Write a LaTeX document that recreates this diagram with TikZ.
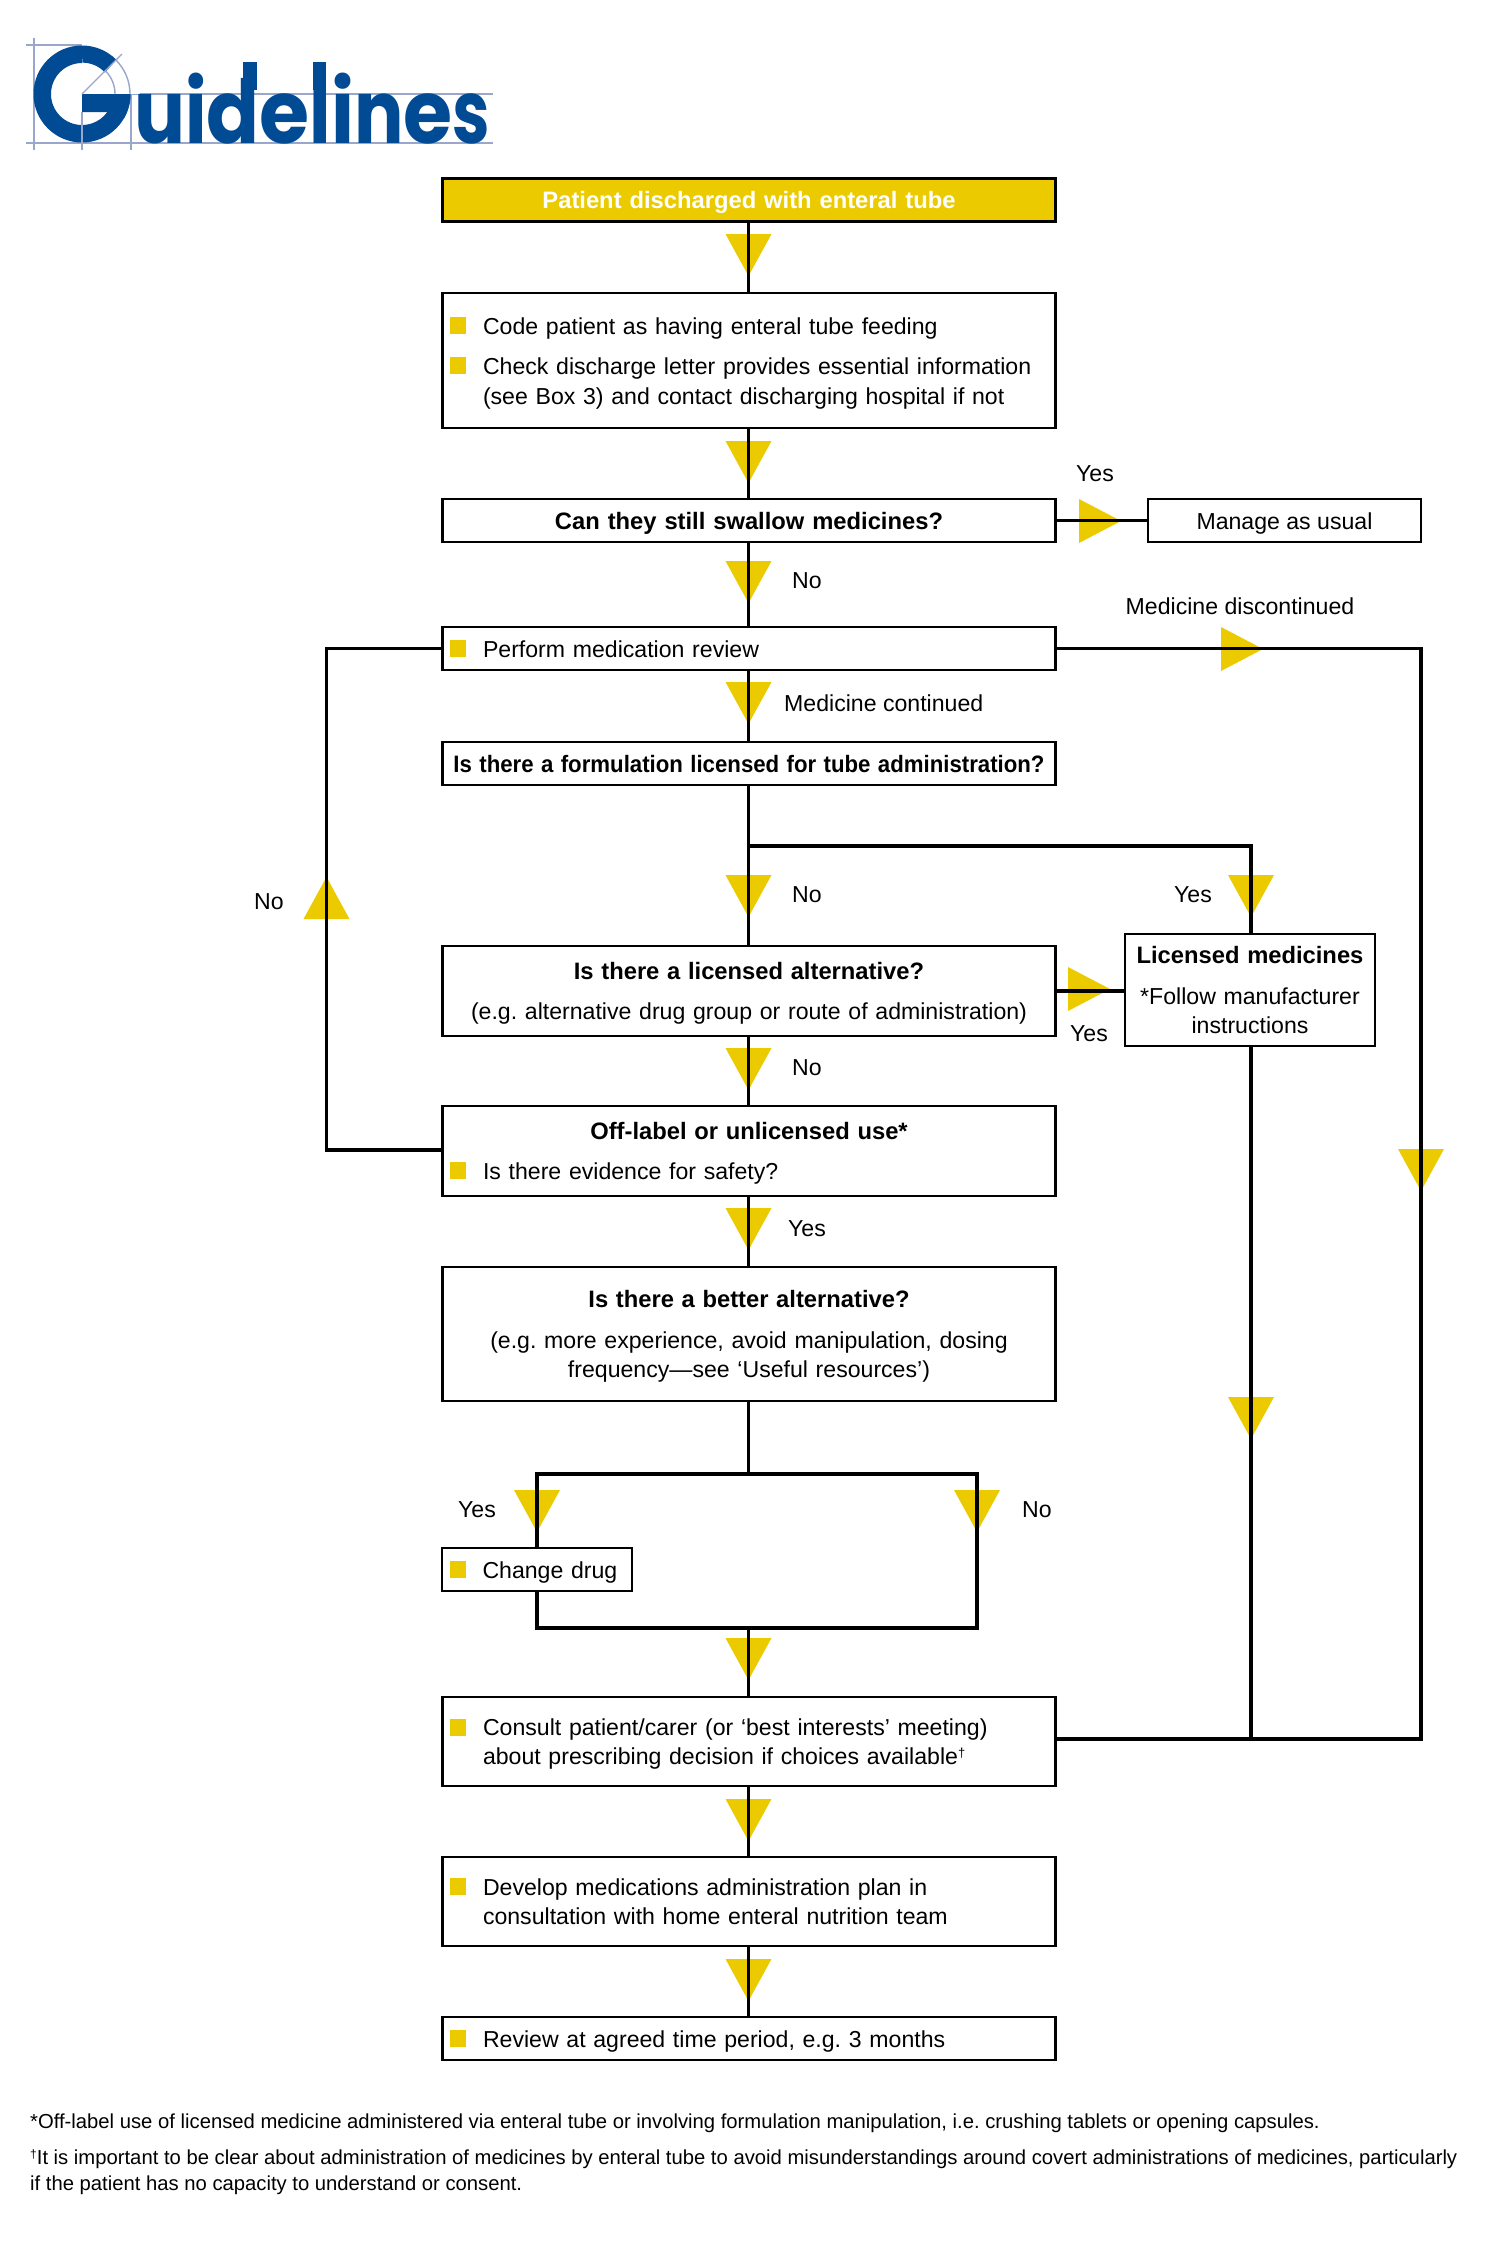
\documentclass[tikz,border=0pt]{standalone}
\usepackage{fontspec}
\setmainfont{Liberation Sans}
\newfontfamily\logofont{Poppins}
\usetikzlibrary{calc}
\frenchspacing
\definecolor{tubeyellow}{HTML}{EBCB00}
\definecolor{logoblue}{HTML}{004B93}
\definecolor{guideblue}{HTML}{9AA6CC}
\newcommand{\ind}{\hspace*{40.5pt}}
\newcommand{\tp}{\rule{0pt}{23pt}}
\newcommand{\bt}{\rule[-6pt]{0pt}{6pt}}
\newcommand{\dg}{\raisebox{7pt}{\fontsize{13}{13}\selectfont †}}
\newcommand{\logoletter}[2]{\resizebox{#1pt}{\height}{#2}}
\newcommand{\tridown}[2]{\fill[tubeyellow] ($(#1,-#2)+(-23,0)$) -- ($(#1,-#2)+(23,0)$) -- ($(#1,-#2)+(0,-42)$) -- cycle;}
\newcommand{\triright}[2]{\fill[tubeyellow] ($(#1,-#2)+(0,22)$) -- ($(#1,-#2)+(0,-22)$) -- ($(#1,-#2)+(42,0)$) -- cycle;}
\newcommand{\triup}[2]{\fill[tubeyellow] ($(#1,-#2)+(-23,0)$) -- ($(#1,-#2)+(23,0)$) -- ($(#1,-#2)+(0,42)$) -- cycle;}
\newcommand{\bul}[1]{\fill[tubeyellow] (450,-#1) rectangle (466,-#1-17);}
\tikzset{
  x=1pt,y=1pt,
  basebox/.style={draw=black,line width=2.2pt,inner sep=0pt,font=\fontsize{23.1}{29.5}\selectfont},
  boldfont/.style={font=\bfseries\fontsize{23.75}{29.5}\selectfont},
  mainbox/.style={basebox,minimum width=613pt,text width=613pt},
  ctr/.style={align=center},
  lft/.style={align=left},
  lab/.style={inner sep=0pt,font=\fontsize{23.1}{29.5}\selectfont},
  foot/.style={inner sep=0pt,anchor=west,align=left,font=\fontsize{20.25}{26}\selectfont},
  link/.style={draw=black,line width=3.6pt},
  guide/.style={draw=guideblue,line width=1.4pt}
}
\begin{document}
\begin{tikzpicture}
\useasboundingbox (0,0) rectangle (1488,-2244);
\fill[white] (0,0) rectangle (1488,-2244);
% triangles under the lines
\tridown{748.5}{234}\tridown{748.5}{441}\tridown{748.5}{561}\tridown{748.5}{682}
\tridown{748.5}{875}\tridown{748.5}{1048}\tridown{748.5}{1208}\tridown{748.5}{1638}
\tridown{748.5}{1799}\tridown{748.5}{1959}
\tridown{1251}{875}\tridown{1251}{1397}\tridown{1421}{1149}
\tridown{537}{1490}\tridown{977}{1490}
\triright{1079}{521}\triright{1221}{649}\triright{1068}{989}
\triup{326.5}{919}
% logo
\begin{scope}
\draw[guide] (26,-45) -- (138,-45);
\draw[guide] (26,-143) -- (493,-143);
\draw[guide] (130,-94) -- (493,-94);
\draw[guide] (34,-38) -- (34,-150);
\draw[guide] (131,-38) -- (131,-150);
\fill[logoblue,even odd rule] (82,-94) circle (48.5) (82,-94) circle (31);
\fill[white] (82,-94) -- (140,-94) -- (140,-36) -- (82,-36) -- cycle;
\fill[logoblue] (82,-45.5) arc (90:45:48.5) -- (105,-72.5) arc (43:90:31) -- cycle;
\fill[logoblue] (82,-94) -- (130.5,-94) arc (0:-30:48.5) -- (110,-112) -- (82,-112) -- cycle;
\draw[guide] (82,-94) -- (122,-54);
\draw[guide] (115,-94) arc (0:45:33);
\draw[guide] (130,-94) arc (0:45:48);
\draw[guide] (82,-112) -- (82,-150);
\node[inner sep=0pt,anchor=base west,text=logoblue,font=\logofont\bfseries\fontsize{88}{88}\selectfont] (logo) at (134,-143) {\logoletter{51}{u}\logoletter{21.5}{i}\logoletter{53}{d}\logoletter{50}{e}\logoletter{21.5}{l}\logoletter{23}{i}\logoletter{49.5}{n}\logoletter{49}{e}\logoletter{37.5}{s}};
\fill[logoblue] (243,-62) rectangle (257,-90);
\fill[logoblue] (313,-62) rectangle (326,-90);
\end{scope}
% boxes
\node[mainbox,ctr,fill=tubeyellow,minimum height=43pt,text=white,boldfont] (start) at (749,-200) {\tp Patient discharged with enteral tube\bt};
\node[mainbox,lft,minimum height=135pt] (code) at (749,-360.5) {\ind\tp Code patient as having enteral tube feeding\\[11pt]\ind Check discharge letter provides essential information\\\ind (see Box 3) and contact discharging hospital if not\bt};
\node[mainbox,ctr,minimum height=43pt,boldfont] (swallow) at (749,-520.5) {\tp Can they still swallow medicines?\bt};
\node[basebox,minimum width=273pt,minimum height=43pt] (usual) at (1284.5,-520.5) {\tp Manage as usual\bt};
\node[mainbox,lft,minimum height=43pt] (review) at (749,-648.5) {\ind\tp Perform medication review\bt};
\node[mainbox,ctr,minimum height=43pt,boldfont] (form) at (749,-763.5) {\tp\resizebox{591pt}{\height}{Is there a formulation licensed for tube administration?}\bt};
\node[mainbox,ctr,minimum height=90pt] (alt) at (749,-991) {\tp\textbf{\fontsize{23.75}{29.5}\selectfont Is there a licensed alternative?}\\[11pt](e.g. alternative drug group or route of administration)\bt};
\node[basebox,ctr,minimum width=250pt,text width=250pt,minimum height=112pt] (lic) at (1250,-990) {\tp\textbf{\fontsize{23.75}{29.5}\selectfont Licensed medicines}\\[11pt]*Follow manufacturer\\instructions\bt};
\node[mainbox,lft,minimum height=90pt] (off) at (749,-1151) {\tp\makebox[613pt][c]{\textbf{\fontsize{23.75}{29.5}\selectfont Off-label or unlicensed use*}}\\[11pt]\ind Is there evidence for safety?\bt};
\node[mainbox,ctr,minimum height=134pt] (better) at (749,-1334) {\tp\textbf{\fontsize{23.75}{29.5}\selectfont Is there a better alternative?}\\[11pt](e.g. more experience, avoid manipulation, dosing\\frequency—see ‘Useful resources’)\bt};
\node[basebox,lft,minimum width=190pt,text width=190pt,minimum height=43pt] (change) at (537,-1569.5) {\ind\tp Change drug\bt};
\node[mainbox,lft,minimum height=89pt] (consult) at (749,-1741.5) {\ind\tp Consult patient/carer (or ‘best interests’ meeting)\\\ind about prescribing decision if choices available\dg\bt};
\node[mainbox,lft,minimum height=89pt] (plan) at (749,-1901.5) {\ind\tp Develop medications administration plan in\\\ind consultation with home enteral nutrition team\bt};
\node[mainbox,lft,minimum height=43pt] (again) at (749,-2038.5) {\ind\tp Review at agreed time period, e.g. 3 months\bt};
% coordinates
\coordinate (split) at (748.5,-846);
\coordinate (licT) at (1251,-846);
\coordinate (leftT) at (326.5,-648.5);
\coordinate (leftB) at (326.5,-1150);
\coordinate (rightT) at (1421,-648.5);
\coordinate (rightB) at (1421,-1739);
\coordinate (licB) at (1251,-1739);
\coordinate (fork) at (748.5,-1474);
\coordinate (forkL) at (537,-1474);
\coordinate (forkR) at (977,-1474);
\coordinate (joinL) at (537,-1628);
\coordinate (joinR) at (977,-1628);
\coordinate (join) at (748.5,-1628);
% connectors
\draw[link] (start.south -| split) -- (code.north -| split);
\draw[link] (code.south -| split) -- (swallow.north -| split);
\draw[link] (swallow.south -| split) -- (review.north -| split);
\draw[link] (review.south -| split) -- (form.north -| split);
\draw[link] (form.south -| split) -- (alt.north -| split);
\draw[link] (alt.south -| split) -- (off.north -| split);
\draw[link] (off.south -| split) -- (better.north -| split);
\draw[link] (swallow.east) -- (usual.west);
\draw[link] (alt.east) -- (alt.east -| lic.west);
\draw[link,line join=miter] (split) -- (licT) -- (lic.north -| licT);
\draw[link,line join=miter] (review.west) -- (leftT) -- (leftB) -- (off.west |- leftB);
\draw[link,line join=miter] (review.east) -- (rightT) -- (rightB) -- (consult.east |- rightB);
\draw[link] (lic.south -| licB) -- (licB);
\draw[link] (better.south -| fork) -- (fork);
\draw[link,line join=miter] (change.north -| forkL) -- (forkL) -- (forkR) -- (joinR) -- (joinL) -- (change.south -| joinL);
\draw[link] (join) -- (consult.north -| join);
\draw[link] (consult.south -| split) -- (plan.north -| split);
\draw[link] (plan.south -| split) -- (again.north -| split);
% bullets
\bul{317}\bul{357}\bul{640}\bul{1162}\bul{1561}\bul{1719}\bul{1878}\bul{2030}
% labels
\node[lab] (l1) at (1095,-473.5) {Yes};
\node[lab] (l2) at (807,-580.5) {No};
\node[lab] (l3) at (1240,-606) {Medicine discontinued};
\node[lab,anchor=west] (l4) at (784,-703) {Medicine continued};
\node[lab] (l5) at (269,-901.5) {No};
\node[lab] (l6) at (807,-894.5) {No};
\node[lab] (l7) at (1193,-894.5) {Yes};
\node[lab] (l8) at (1089,-1033.5) {Yes};
\node[lab] (l9) at (807,-1067.5) {No};
\node[lab] (l10) at (807,-1228.5) {Yes};
\node[lab] (l11) at (477,-1509.5) {Yes};
\node[lab] (l12) at (1037,-1509.5) {No};
% footnotes
\node[foot] (f1) at (30,-2123) {*Off-label use of licensed medicine administered via enteral tube or involving formulation manipulation, i.e. crushing tablets or opening capsules.};
\node[foot] (f2) at (30,-2172.5) {\raisebox{6pt}{\fontsize{12}{12}\selectfont †}It is important to be clear about administration of medicines by enteral tube to avoid misunderstandings around covert administrations of medicines, particularly\\if the patient has no capacity to understand or consent.};
\end{tikzpicture}
\end{document}
